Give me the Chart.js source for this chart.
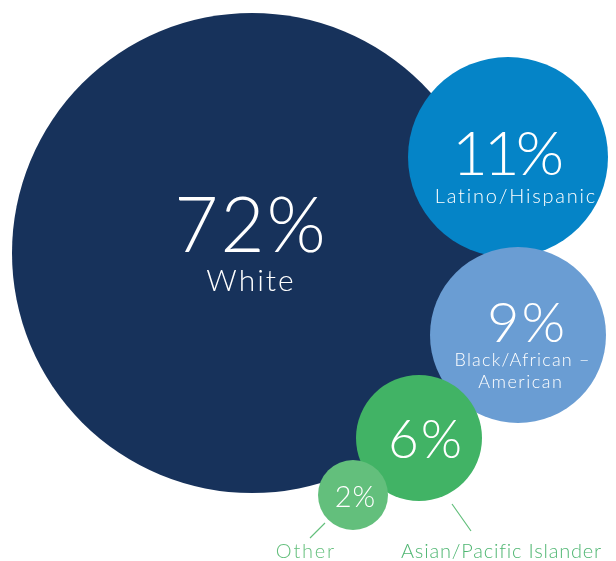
<!DOCTYPE html>
<html lang="en">
<head>
    <meta charset="UTF-8">
    <title>Race / Ethnicity</title>
    <style>
        body {
            margin: 0;
            background-color: #fff;
        }

        .chart-box {
            width: 616px;
            height: 561px;
        }
    </style>
</head>
<body>
    <div class="chart-box">
        <canvas id="bubbles" width="616" height="561"></canvas>
    </div>

    <script src="https://cdn.jsdelivr.net/npm/chart.js"></script>
    <script>
        // Data
        const groups = ['White', 'Latino/Hispanic', 'Black/African – American', 'Asian/Pacific Islander', 'Other'];
        const shares = [72, 11, 9, 6, 2];
        const bubbleX = [252, 508, 518, 419, 353];
        const bubbleY = [253, 157, 335, 438, 495];
        const bubbleR = [240, 100, 88, 63, 35];

        const colors = ['#17325b', '#0584c7', '#6a9dd3', '#41b365', '#63bf7c'];
        const font = 'Lato, "Open Sans", sans-serif';

        // text placement relative to each bubble centre: [dx, dy, size, spacing]
        const textLayout = [
            { pct: [-2, -1, 76, 2], lines: [['White', -2, 38, 30, 2, '#fff']] },
            { pct: [0, 18, 62, -4], lines: [['Latino/Hispanic', 7, 46, 20, 1.8, '#fff']] },
            { pct: [8, 7, 56, 2], lines: [['Black/African –', 4, 31, 18, 1.2, '#fff'], ['American', 2, 53, 18, 1.5, '#fff']] },
            { pct: [6, 20, 53, 2], lines: [['Asian/Pacific Islander', 82, 120, 20, 0.8, '#4fb672']] },
            { pct: [2, 12, 29, 1], lines: [['Other', -48, 63, 20, 1.8, '#63bf7c']] }
        ];

        function drawText(ctx, txt, x, y, size, spacing, color) {
            ctx.font = '300 ' + size + 'px ' + font;
            ctx.letterSpacing = spacing + 'px';
            ctx.fillStyle = color;
            ctx.fillText(txt, x + spacing / 2, y);
        }

        const bubbleText = {
            id: 'bubbleText',
            afterDatasetsDraw(chart) {
                const ctx = chart.ctx;
                const meta = chart.getDatasetMeta(0);
                ctx.save();
                ctx.textAlign = 'center';
                ctx.textBaseline = 'alphabetic';
                meta.data.forEach((pt, i) => {
                    const t = textLayout[i];
                    drawText(ctx, shares[i] + '%', pt.x + t.pct[0], pt.y + t.pct[1], t.pct[2], t.pct[3], '#fff');
                    t.lines.forEach(l => {
                        drawText(ctx, l[0], pt.x + l[1], pt.y + l[2], l[3], l[4], l[5]);
                    });
                });
                ctx.letterSpacing = '0px';

                // leader lines for the two outside labels
                ctx.strokeStyle = '#63bf7c';
                ctx.lineWidth = 1.2;
                const asian = meta.data[3], other = meta.data[4];
                ctx.beginPath();
                ctx.moveTo(asian.x + 33, asian.y + 66);
                ctx.lineTo(asian.x + 52, asian.y + 93);
                ctx.moveTo(other.x - 28, other.y + 28);
                ctx.lineTo(other.x - 43, other.y + 43);
                ctx.stroke();
                ctx.restore();
            }
        };

        new Chart(document.getElementById('bubbles'), {
            type: 'bubble',
            data: {
                datasets: [{
                    label: 'Share',
                    data: shares.map((v, i) => ({ x: bubbleX[i], y: bubbleY[i], r: bubbleR[i] })),
                    backgroundColor: colors,
                    borderWidth: 0,
                    hoverBorderWidth: 0,
                    clip: false
                }]
            },
            options: {
                responsive: false,
                animation: false,
                events: [],
                layout: { padding: 0, autoPadding: false },
                scales: {
                    x: { display: false, min: 0, max: 616 },
                    y: { display: false, min: 0, max: 561, reverse: true }
                },
                plugins: {
                    legend: { display: false },
                    tooltip: { enabled: false }
                }
            },
            plugins: [bubbleText]
        });
    </script>
</body>
</html>
